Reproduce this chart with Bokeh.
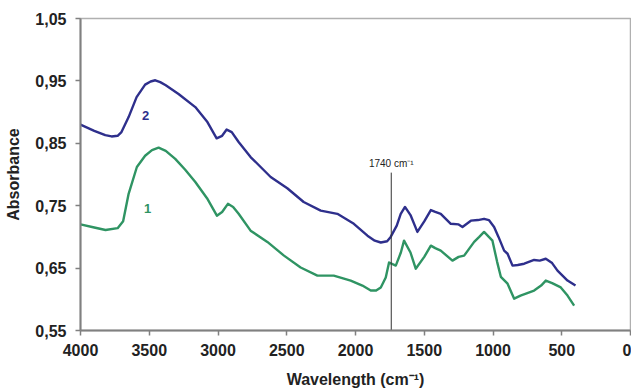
from bokeh.plotting import figure
from bokeh.models import Range1d, FixedTicker, CustomJSTickFormatter, ColumnDataSource
from bokeh.core.properties import value
from bokeh.embed import file_html
from bokeh.resources import INLINE

# Curve 2 (blue)
wn2 = [4000, 3900, 3820, 3774, 3730, 3702, 3650, 3592, 3530, 3490, 3456, 3420, 3380, 3287, 3165, 3080,
       3010, 2970, 2937, 2900, 2850, 2763, 2617, 2496, 2377, 2253, 2132, 2012, 1913, 1860, 1816, 1770,
       1744, 1700, 1671, 1640, 1600, 1550, 1500, 1452, 1420, 1380, 1307, 1250, 1222, 1161, 1110, 1065,
       1030, 992, 960, 919, 894, 858, 820, 773, 701, 660, 616, 570, 531, 458, 400]
ab2 = [0.880, 0.870, 0.863, 0.861, 0.862, 0.868, 0.892, 0.924, 0.944, 0.949, 0.951, 0.948, 0.943, 0.929,
       0.908, 0.885, 0.858, 0.862, 0.872, 0.868, 0.852, 0.828, 0.796, 0.778, 0.756, 0.742, 0.737, 0.721,
       0.702, 0.694, 0.691, 0.693, 0.700, 0.718, 0.737, 0.748, 0.735, 0.708, 0.725, 0.743, 0.740, 0.737,
       0.721, 0.720, 0.716, 0.726, 0.727, 0.729, 0.727, 0.716, 0.700, 0.678, 0.673, 0.654, 0.655, 0.657,
       0.663, 0.662, 0.665, 0.658, 0.646, 0.630, 0.622]

# Curve 1 (green)
wn1 = [4000, 3900, 3818, 3730, 3690, 3650, 3590, 3530, 3480, 3432, 3380, 3311, 3240, 3165, 3080, 3008,
       2970, 2928, 2890, 2850, 2763, 2641, 2520, 2399, 2277, 2158, 2035, 1950, 1889, 1850, 1816, 1780,
       1756, 1707, 1670, 1647, 1600, 1562, 1500, 1452, 1420, 1380, 1295, 1250, 1210, 1137, 1100, 1065,
       1004, 970, 943, 894, 846, 800, 701, 650, 616, 570, 507, 458, 410]
ab1 = [0.720, 0.715, 0.711, 0.714, 0.725, 0.769, 0.812, 0.830, 0.839, 0.843, 0.838, 0.825, 0.808, 0.788,
       0.762, 0.734, 0.740, 0.753, 0.748, 0.737, 0.710, 0.692, 0.670, 0.651, 0.638, 0.638, 0.630, 0.622,
       0.614, 0.614, 0.619, 0.635, 0.659, 0.654, 0.675, 0.694, 0.675, 0.649, 0.668, 0.686, 0.682, 0.678,
       0.662, 0.668, 0.670, 0.692, 0.700, 0.708, 0.694, 0.660, 0.636, 0.625, 0.601, 0.606, 0.614, 0.622,
       0.630, 0.626, 0.619, 0.606, 0.590]

marker_wn = [1740]
marker_top = [0.803]
marker_bottom = [0.55]
marker_text = ["1740 cm\u207b\u00b9"]

label_wn = [3527, 3512]
label_ab = [0.895, 0.746]
label_txt = ["2", "1"]
label_col = ["#2e2f8c", "#2f9463"]

x_ticks = [4000, 3500, 3000, 2500, 2000, 1500, 1000, 500, 0]
y_ticks = [0.55, 0.65, 0.75, 0.85, 0.95, 1.05]

BLUE = "#2e2f8c"
GREEN = "#2f9463"
FONT = "Liberation Sans"

p = figure(width=631, height=390, output_backend="svg", toolbar_location=None,
           x_range=Range1d(4000, 0), y_range=Range1d(0.55, 1.05),
           min_border_left=80, min_border_right=1, min_border_top=18, min_border_bottom=60)
p.background_fill_color = "white"
p.border_fill_color = "white"
p.outline_line_color = "#b0b0b0"
p.outline_line_width = 1.5
p.xgrid.visible = False
p.ygrid.visible = False

p.line(wn1, ab1, line_color=GREEN, line_width=2.4, line_join="round")
p.line(wn2, ab2, line_color=BLUE, line_width=2.4, line_join="round")

src_m = ColumnDataSource(dict(x=marker_wn, y0=marker_bottom, y1=marker_top, t=marker_text))
p.segment(x0="x", y0="y0", x1="x", y1="y1", source=src_m, line_color="#333333", line_width=1)
p.text(x="x", y="y1", text="t", source=src_m, text_align="center", text_baseline="bottom",
       text_font=value(FONT), text_font_size="10px", text_color="#222222", y_offset=-4)

src_l = ColumnDataSource(dict(x=label_wn, y=label_ab, t=label_txt, c=label_col))
p.text(x="x", y="y", text="t", source=src_l, text_color="c", text_align="center",
       text_baseline="middle", text_font=value(FONT), text_font_size="13px", text_font_style="bold")

for ax in (p.xaxis[0], p.yaxis[0]):
    ax.axis_line_color = "#808080"
    ax.axis_line_width = 2
    ax.major_tick_line_color = "#808080"
    ax.major_tick_line_width = 1.5
    ax.major_tick_out = 5
    ax.major_tick_in = 0
    ax.minor_tick_line_color = None
    ax.major_label_text_font = FONT
    ax.major_label_text_font_style = "bold"
    ax.major_label_text_font_size = "16px"
    ax.major_label_text_color = "#222222"
    ax.axis_label_text_font = FONT
    ax.axis_label_text_font_style = "bold"
    ax.axis_label_text_font_size = "16px"
    ax.axis_label_text_color = "#222222"

p.xaxis.ticker = FixedTicker(ticks=x_ticks)
p.yaxis.ticker = FixedTicker(ticks=y_ticks)
p.yaxis.formatter = CustomJSTickFormatter(code="return tick.toFixed(2).replace('.', ',');")
p.xaxis.axis_label = "Wavelength (cm\u207b\u00b9)"
p.yaxis.axis_label = "Absorbance"
p.xaxis.axis_label_standoff = 12
p.yaxis.axis_label_standoff = 10
p.xaxis.major_label_standoff = 8
p.yaxis.major_label_standoff = 9

open("out.html", "w").write(file_html(p, INLINE))
